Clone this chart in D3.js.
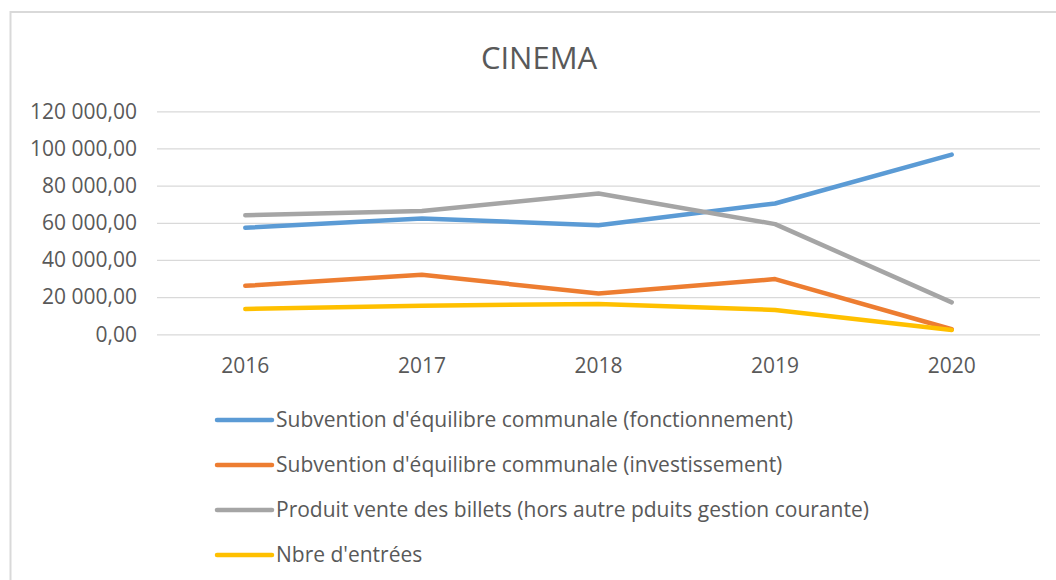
<!DOCTYPE html>
<html>
<head>
<meta charset="utf-8">
<script src="https://cdn.jsdelivr.net/npm/d3@7"></script>
<style>
  html, body { margin: 0; padding: 0; background: #fff; }
  svg { display: block; font-family: "Open Sans", sans-serif; }
</style>
</head>
<body>
<div id="chart"></div>
<script>
const years = ['2016', '2017', '2018', '2019', '2020'];
const fonctionnement = [57300, 62300, 58700, 70400, 96700];
const investissement = [26100, 32000, 22000, 29700, 2700];
const billets = [64100, 66400, 75800, 59300, 17200];
const entrees = [13600, 15400, 16300, 13100, 2300];
const yTicks = [0, 20000, 40000, 60000, 80000, 100000, 120000];
const seriesNames = [
    "Subvention d'équilibre communale (fonctionnement)",
    "Subvention d'équilibre communale (investissement)",
    "Produit vente des billets (hors autre pduits gestion courante)",
    "Nbre d'entrées"
];

const series = [
    { name: seriesNames[0], values: fonctionnement, color: '#5b9bd5' },
    { name: seriesNames[1], values: investissement, color: '#ed7d31' },
    { name: seriesNames[2], values: billets, color: '#a5a5a5' },
    { name: seriesNames[3], values: entrees, color: '#ffc000' }
];

const width = 1056, height = 580;
const plotLeft = 157, plotRight = 1040, plotTop = 111.3, plotBottom = 334.3;

const svg = d3.select('#chart')
              .append('svg')
              .attr('width', width)
              .attr('height', height);

// chart frame
svg.append('rect')
   .attr('x', 10.5)
   .attr('y', 12)
   .attr('width', width + 20)
   .attr('height', height + 20)
   .attr('fill', '#fff')
   .attr('stroke', '#d9d9d9')
   .attr('stroke-width', 2);

svg.append('text')
   .text('CINEMA')
   .attr('x', 539)
   .attr('y', 68.5)
   .attr('text-anchor', 'middle')
   .attr('font-size', 31)
   .attr('fill', '#595959');

const xScale = d3.scaleBand()
                 .domain(years)
                 .range([plotLeft, plotRight]);

const yScale = d3.scaleLinear()
                 .domain([0, 120000])
                 .range([plotBottom, plotTop]);

const fmt = v => d3.format(',.2f')(v).replace(/,/g, ' ').replace('.', ',');

// y axis with gridlines
const yAxis = d3.axisLeft(yScale)
                .tickValues(yTicks)
                .tickSize(-(plotRight - plotLeft))
                .tickPadding(20)
                .tickFormat(fmt);

const yG = svg.append('g')
              .attr('transform', 'translate(' + plotLeft + ',0)')
              .call(yAxis);
yG.select('.domain').remove();
yG.selectAll('.tick line')
  .attr('stroke', '#d9d9d9')
  .attr('stroke-width', 1.3);
yG.selectAll('.tick text')
  .attr('font-size', 21)
  .attr('font-family', '"Open Sans", sans-serif')
  .attr('fill', '#595959');

// x axis labels
const xAxis = d3.axisBottom(xScale).tickSize(0).tickPadding(24);
const xG = svg.append('g')
              .attr('transform', 'translate(0,' + plotBottom + ')')
              .call(xAxis);
xG.select('.domain').remove();
xG.selectAll('.tick text')
  .attr('font-size', 21)
  .attr('font-family', '"Open Sans", sans-serif')
  .attr('fill', '#595959');

// lines
const line = d3.line()
               .x((d, i) => xScale(years[i]) + xScale.bandwidth() / 2)
               .y(d => yScale(d));

svg.selectAll('path.series')
   .data(series)
   .enter()
   .append('path')
   .attr('class', 'series')
   .attr('d', d => line(d.values))
   .attr('fill', 'none')
   .attr('stroke', d => d.color)
   .attr('stroke-width', 4.5)
   .attr('stroke-linecap', 'round')
   .attr('stroke-linejoin', 'round');

// legend
const legend = svg.selectAll('g.legend')
                  .data(series)
                  .enter()
                  .append('g')
                  .attr('class', 'legend')
                  .attr('transform', (d, i) => 'translate(217,' + (420 + i * 45) + ')');

legend.append('line')
      .attr('x1', 0)
      .attr('x2', 55)
      .attr('stroke', d => d.color)
      .attr('stroke-width', 4.5)
      .attr('stroke-linecap', 'round');

legend.append('text')
      .text(d => d.name)
      .attr('x', 59)
      .attr('dy', '0.35em')
      .attr('font-size', 21)
      .attr('fill', '#595959');
</script>
</body>
</html>
